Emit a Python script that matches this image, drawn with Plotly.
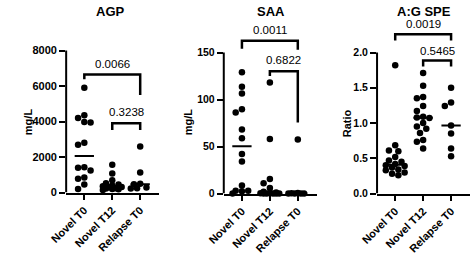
import numpy as np
import plotly.graph_objects as go

# ---------------- data ----------------
categories = ["Novel T0", "Novel T12", "Relapse T0"]

agp_novel_t0 = [5900, 4350, 4200, 3950, 3980, 2800, 2700, 1420, 1400, 1250, 850, 780, 450, 200]
agp_novel_t12 = [1570, 1070, 700, 520, 450, 400, 350, 320, 300, 250, 230, 200, 180, 150]
agp_relapse_t0 = [2600, 1130, 500, 470, 280, 250, 230]

saa_novel_t0 = [129, 113.5, 106.5, 89.7, 86.2, 68, 58.7, 42, 34, 8.6, 3, 3, 2.5, 0]
saa_novel_t12 = [118, 58, 15.5, 11, 6, 2, 1, 0.5, 0.3, 0, 0, 0, 0, 0]
saa_relapse_t0 = [57.6, 0.6, 0.3, 0, 0, 0, 0]

ag_novel_t0 = [1.82, 0.685, 0.61, 0.60, 0.52, 0.47, 0.45, 0.42, 0.40, 0.39, 0.37, 0.34, 0.33, 0.30, 0.28, 0.26]
ag_novel_t12 = [1.71, 1.53, 1.37, 1.35, 1.24, 1.17, 1.09, 1.08, 1.07, 1.00, 0.95, 0.92, 0.86, 0.76, 0.735, 0.64]
ag_relapse_t0 = [1.50, 1.29, 1.24, 0.965, 0.85, 0.64, 0.53]

titles = ["AGP", "SAA", "A:G SPE"]
y_titles = ["mg/L", "mg/L", "Ratio"]

agp_ticks = [0, 2000, 4000, 6000, 8000]
agp_tick_labels = ["0", "2000", "4000", "6000", "8000"]
saa_ticks = [0, 50, 100, 150]
saa_tick_labels = ["0", "50", "100", "150"]
ag_ticks = [0, 0.5, 1.0, 1.5, 2.0]
ag_tick_labels = ["0.0", "0.5", "1.0", "1.5", "2.0"]

# p-value comparisons: (group a, group b, p text)
agp_pvals = [(0, 2, "0.0066"), (1, 2, "0.3238")]
saa_pvals = [(0, 2, "0.0011"), (1, 2, "0.6822")]
ag_pvals = [(0, 2, "0.0019"), (1, 2, "0.5465")]
# bracket heights: (top, left-leg end, right-leg end, label y)
agp_brackets = [(6650, 6380, 5500, 7230), (3900, 3530, 3530, 4540)]
saa_brackets = [(162.5, 154, 153, 174), (130, 125, 75.5, 141.7)]
ag_brackets = [(2.26, 2.17, 2.17, 2.40), (1.886, 1.80, 1.80, 2.028)]

# ---------------- layout geometry (pixels) ----------------
W, H = 472, 255
FONT = "Liberation Sans, Arial, sans-serif"
panels = [
    dict(groups=[agp_novel_t0, agp_novel_t12, agp_relapse_t0], ticks=agp_ticks, labels=agp_tick_labels,
         pvals=agp_pvals, brackets=agp_brackets, xdom=(51, 147.5), ybot=198, ytop_tick_px=52,
         title_x=97, ytitle_x=11, ytitle_y=125, tickfs=11),
    dict(groups=[saa_novel_t0, saa_novel_t12, saa_relapse_t0], ticks=saa_ticks, labels=saa_tick_labels,
         pvals=saa_pvals, brackets=saa_brackets, xdom=(214.5, 311), ybot=199, ytop_tick_px=54,
         title_x=263, ytitle_x=177, ytitle_y=125, tickfs=10.5),
    dict(groups=[ag_novel_t0, ag_novel_t12, ag_relapse_t0], ticks=ag_ticks, labels=ag_tick_labels,
         pvals=ag_pvals, brackets=ag_brackets, xdom=(373.5, 470), ybot=199, ytop_tick_px=54,
         title_x=422, ytitle_x=342, ytitle_y=127, tickfs=10.5),
]
XR = (-0.65, 2.68)
TOP_PX = 18
MARK = 6.5


def swarm(vals, y_px_per_unit, x_px_per_unit, d=MARK, maxoff=11.0):
    order = sorted(range(len(vals)), key=lambda i: -vals[i])
    placed = []
    offs = [0.0] * len(vals)
    step = d * 0.5
    cands = [0.0]
    k = 1
    while k * step <= maxoff + 1e-9:
        cands += [-k * step, k * step]
        k += 1
    for i in order:
        yp = vals[i] * y_px_per_unit
        best, best_score = None, -1
        for c in cands:
            md = min([np.hypot(c - px, yp - py) for px, py in placed] + [1e9])
            if md >= d:
                best = c
                break
            if md > best_score:
                best_score, best = md, c
        placed.append((best, yp))
        offs[i] = best / x_px_per_unit
    return offs


fig = go.Figure()
annotations = []
shapes = []

for n, p in enumerate(panels):
    sfx = "" if n == 0 else str(n + 1)
    xa, ya = "x" + sfx, "y" + sfx
    x0px, x1px = p["xdom"]
    x_ppu = (x1px - x0px) / (XR[1] - XR[0])
    y_ppu = (p["ybot"] - p["ytop_tick_px"]) / p["ticks"][-1]
    ytop_val = (p["ybot"] - TOP_PX) / y_ppu

    for gi, vals in enumerate(p["groups"]):
        offs = swarm(vals, y_ppu, x_ppu)
        fig.add_trace(go.Scatter(
            x=[gi + o for o in offs], y=vals, mode="markers", xaxis=xa, yaxis=ya,
            marker=dict(size=MARK, color="black", line=dict(width=0)),
            cliponaxis=False, showlegend=False, hoverinfo="skip"))
        med = float(np.median(vals))
        hw = 10 / x_ppu
        fig.add_trace(go.Scatter(
            x=[gi - hw, gi + hw], y=[med, med], mode="lines", xaxis=xa, yaxis=ya,
            line=dict(color="black", width=2), showlegend=False, hoverinfo="skip"))

    for (a, b, txt), (top, lleg, rleg, ly) in zip(p["pvals"], p["brackets"]):
        fig.add_trace(go.Scatter(
            x=[a, a, b, b], y=[lleg, top, top, rleg], mode="lines", xaxis=xa, yaxis=ya,
            line=dict(color="black", width=2.5), showlegend=False, hoverinfo="skip"))
        annotations.append(dict(x=(a + b) / 2, y=ly, xref=xa, yref=ya, text=txt, showarrow=False,
                                font=dict(family=FONT, size=11.5, color="black"), borderpad=0,
                                xanchor="center", yanchor="middle"))

    # y axis line only up to the top tick
    shapes.append(dict(type="line", xref=xa + " domain", yref=ya, x0=0, x1=0,
                       y0=0, y1=p["ticks"][-1], line=dict(color="black", width=2)))

    fig.update_layout(**{
        ("xaxis" + sfx): dict(
            domain=[x0px / W, x1px / W], range=list(XR), anchor=ya,
            tickmode="array", tickvals=[0, 1, 2], ticktext=categories, tickangle=-45,
            ticks="outside", ticklen=5, tickwidth=2, tickcolor="black",
            showline=True, linewidth=2, linecolor="black", showgrid=False, zeroline=False,
            tickfont=dict(family=FONT, size=11, color="black", weight="bold"), fixedrange=True),
        ("yaxis" + sfx): dict(
            domain=[1 - p["ybot"] / H, 1 - TOP_PX / H], range=[0, ytop_val], anchor=xa,
            tickmode="array", tickvals=p["ticks"], ticktext=p["labels"],
            ticks="outside", ticklen=6, tickwidth=2, tickcolor="black",
            showline=False, showgrid=False, zeroline=False,
            tickfont=dict(family=FONT, size=p["tickfs"], color="black", weight="bold"), fixedrange=True),
    })

    annotations.append(dict(x=p["title_x"] / W, y=1 - 11.5 / H, xref="paper", yref="paper",
                            text="<b>" + titles[n] + "</b>", showarrow=False, borderpad=0,
                            font=dict(family=FONT, size=13, color="black"),
                            xanchor="center", yanchor="middle"))
    annotations.append(dict(x=p["ytitle_x"] / W, y=1 - p["ytitle_y"] / H, xref="paper", yref="paper",
                            text="<b>" + y_titles[n] + "</b>", showarrow=False, textangle=-90,
                            font=dict(family=FONT, size=11, color="black"),
                            xanchor="center", yanchor="middle"))

fig.update_layout(width=W, height=H, margin=dict(l=0, r=0, t=0, b=0),
                  paper_bgcolor="white", plot_bgcolor="white",
                  annotations=annotations, shapes=shapes, showlegend=False)

fig.write_html("out.html")
